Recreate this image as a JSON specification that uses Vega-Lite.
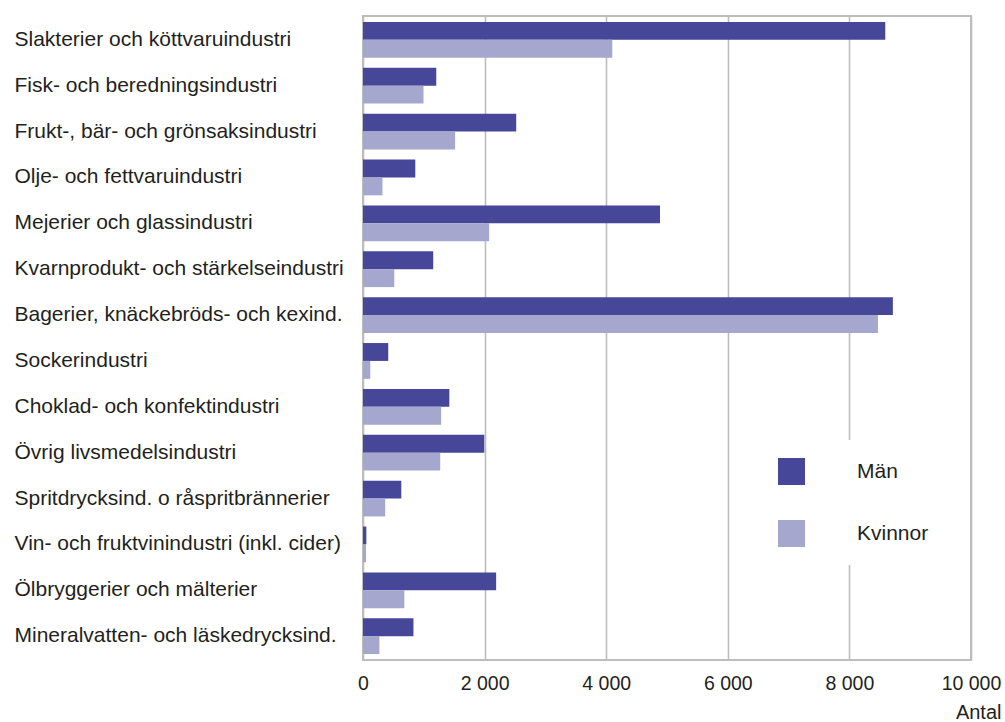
{
  "$schema": "https://vega.github.io/schema/vega-lite/v6.json",
  "autosize": "none",
  "width": 608,
  "height": 644,
  "padding": {"left": 363, "top": 16, "right": 34, "bottom": 62},
  "background": "white",
  "config": {
    "font": "Liberation Sans",
    "view": {"stroke": "#bdbdbd", "strokeWidth": 2},
    "axis": {"labelFont": "Liberation Sans", "titleFont": "Liberation Sans", "labelColor": "#231f20", "titleColor": "#231f20"},
    "legend": {"labelFont": "Liberation Sans"}
  },
  "data": {
    "values": [
      {"bransch": "Slakterier och köttvaruindustri", "kon": "Män", "antal": 8590},
      {"bransch": "Slakterier och köttvaruindustri", "kon": "Kvinnor", "antal": 4100},
      {"bransch": "Fisk- och beredningsindustri", "kon": "Män", "antal": 1205},
      {"bransch": "Fisk- och beredningsindustri", "kon": "Kvinnor", "antal": 995},
      {"bransch": "Frukt-, bär- och grönsaksindustri", "kon": "Män", "antal": 2520},
      {"bransch": "Frukt-, bär- och grönsaksindustri", "kon": "Kvinnor", "antal": 1515},
      {"bransch": "Olje- och fettvaruindustri", "kon": "Män", "antal": 860},
      {"bransch": "Olje- och fettvaruindustri", "kon": "Kvinnor", "antal": 320},
      {"bransch": "Mejerier och glassindustri", "kon": "Män", "antal": 4885},
      {"bransch": "Mejerier och glassindustri", "kon": "Kvinnor", "antal": 2075},
      {"bransch": "Kvarnprodukt- och stärkelseindustri", "kon": "Män", "antal": 1155},
      {"bransch": "Kvarnprodukt- och stärkelseindustri", "kon": "Kvinnor", "antal": 515},
      {"bransch": "Bagerier, knäckebröds- och kexind.", "kon": "Män", "antal": 8715},
      {"bransch": "Bagerier, knäckebröds- och kexind.", "kon": "Kvinnor", "antal": 8470},
      {"bransch": "Sockerindustri", "kon": "Män", "antal": 415},
      {"bransch": "Sockerindustri", "kon": "Kvinnor", "antal": 120},
      {"bransch": "Choklad- och konfektindustri", "kon": "Män", "antal": 1420},
      {"bransch": "Choklad- och konfektindustri", "kon": "Kvinnor", "antal": 1285},
      {"bransch": "Övrig livsmedelsindustri", "kon": "Män", "antal": 1995},
      {"bransch": "Övrig livsmedelsindustri", "kon": "Kvinnor", "antal": 1270},
      {"bransch": "Spritdrycksind. o råspritbrännerier", "kon": "Män", "antal": 630},
      {"bransch": "Spritdrycksind. o råspritbrännerier", "kon": "Kvinnor", "antal": 365},
      {"bransch": "Vin- och fruktvinindustri (inkl. cider)", "kon": "Män", "antal": 55},
      {"bransch": "Vin- och fruktvinindustri (inkl. cider)", "kon": "Kvinnor", "antal": 50},
      {"bransch": "Ölbryggerier och mälterier", "kon": "Män", "antal": 2190},
      {"bransch": "Ölbryggerier och mälterier", "kon": "Kvinnor", "antal": 680},
      {"bransch": "Mineralvatten- och läskedrycksind.", "kon": "Män", "antal": 830},
      {"bransch": "Mineralvatten- och läskedrycksind.", "kon": "Kvinnor", "antal": 270}
    ]
  },
  "mark": {"type": "bar"},
  "encoding": {
    "y": {
      "field": "bransch",
      "type": "nominal",
      "sort": null,
      "scale": {"paddingInner": 0.22, "paddingOuter": 0.13},
      "axis": {
        "title": null,
        "ticks": false,
        "tickSize": 0,
        "domain": false,
        "labelAlign": "left",
        "labelPadding": 349,
        "labelFontSize": 21,
        "labelLimit": 400
      }
    },
    "yOffset": {
      "field": "kon",
      "type": "nominal",
      "sort": ["Män", "Kvinnor"],
      "scale": {"paddingInner": 0, "paddingOuter": 0}
    },
    "x": {
      "field": "antal",
      "type": "quantitative",
      "scale": {"domain": [0, 10000], "nice": false},
      "axis": {
        "values": [0, 2000, 4000, 6000, 8000, 10000],
        "labelExpr": "replace(format(datum.value, ','), ',', ' ')",
        "grid": true,
        "gridColor": "#bdbdbd",
        "gridWidth": 1.6,
        "ticks": false,
        "tickSize": 0,
        "domain": false,
        "labelFontSize": 19.5,
        "labelPadding": 14,
        "labelFlush": false,
        "title": "Antal",
        "titleFontSize": 20,
        "titleFontWeight": "normal",
        "titleX": 638,
        "titleY": 52,
        "titleAlign": "right",
        "titleBaseline": "middle"
      }
    },
    "color": {
      "field": "kon",
      "type": "nominal",
      "scale": {"domain": ["Män", "Kvinnor"], "range": ["#47479a", "#a5a7ce"]},
      "legend": {
        "title": null,
        "orient": "none",
        "legendX": 397,
        "legendY": 424,
        "padding": 18,
        "fillColor": "white",
        "symbolType": "square",
        "symbolSize": 729,
        "symbolStrokeWidth": 0,
        "symbolOpacity": 1,
        "labelFontSize": 21,
        "labelColor": "#231f20",
        "labelOffset": 52,
        "rowPadding": 35
      }
    }
  }
}
